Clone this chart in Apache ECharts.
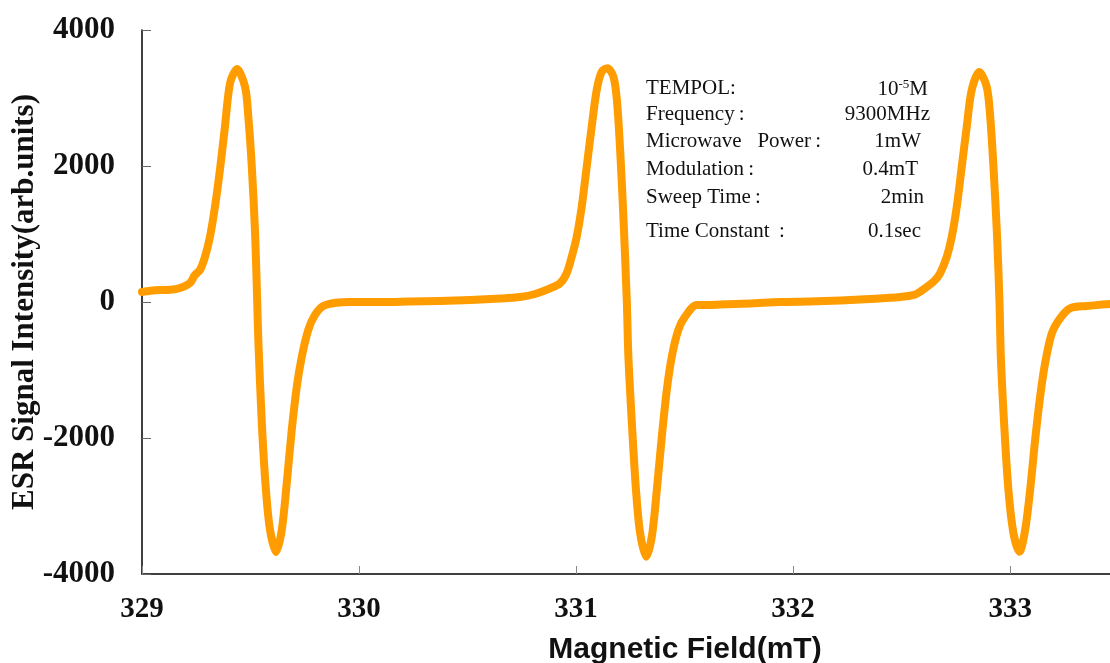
<!DOCTYPE html>
<html>
<head>
    <meta charset="utf-8">
    <title>ESR spectrum of TEMPOL</title>
    <style>
        html,body,#chart{
            height: 100%;
            width: 100%;
            padding: 0;
            margin: 0;
            background: #fff;
        }
    </style>
</head>
<body>
    <div id="chart"></div>
    <script src="https://cdn.jsdelivr.net/npm/echarts@6/dist/echarts.min.js"></script>
    <script>
        // magnetic field (mT)
        var field = [
            329.000, 329.040, 329.083, 329.130, 329.175, 329.221, 329.244, 329.267, 329.290, 329.313,
            329.336, 329.359, 329.382, 329.406, 329.438, 329.475, 329.490, 329.506, 329.521, 329.531,
            329.536, 329.552, 329.571, 329.590, 329.618, 329.644, 329.667, 329.690, 329.713, 329.736,
            329.766, 329.797, 329.835, 329.897, 329.959, 330.097, 330.235, 330.373, 330.512, 330.650,
            330.742, 330.811, 330.880, 330.926, 330.957, 330.980, 331.003, 331.026, 331.049, 331.072,
            331.095, 331.118, 331.144, 331.172, 331.188, 331.203, 331.218, 331.234, 331.241, 331.257,
            331.276, 331.295, 331.323, 331.349, 331.372, 331.395, 331.418, 331.441, 331.471, 331.502,
            331.556, 331.602, 331.664, 331.802, 331.940, 332.078, 332.217, 332.355, 332.493, 332.562,
            332.585, 332.647, 332.677, 332.708, 332.731, 332.754, 332.777, 332.800, 332.823, 332.858,
            332.892, 332.908, 332.923, 332.939, 332.951, 332.957, 332.972, 332.992, 333.015, 333.043,
            333.069, 333.092, 333.115, 333.138, 333.161, 333.192, 333.230, 333.276, 333.353, 333.461
        ];
        // signal intensity (arb. units)
        var intensity = [
            147, 165, 176, 180, 206, 279, 397, 470, 662, 956,
            1397, 1941, 2574, 3221, 3426, 3162, 2721, 1985, 1015, -15,
            -559, -1779, -2765, -3353, -3676, -3353, -2662, -1882, -1250, -809,
            -412, -191, -59, -10, 0, 0, 7, 15, 29, 51,
            74, 118, 201, 275, 426, 666, 960, 1401, 1990, 2578,
            3118, 3387, 3437, 3313, 2971, 2235, 1254, -15, -804, -1779,
            -2765, -3397, -3746, -3451, -2765, -1981, -1294, -804, -412, -216,
            -44, -44, -37, -22, 0, 7, 22, 44, 74, 110,
            151, 299, 422, 666, 960, 1401, 1990, 2578, 3118, 3382,
            3166, 2725, 1990, 1010, -15, -804, -1779, -2765, -3397, -3672,
            -3353, -2765, -2029, -1393, -901, -460, -240, -93, -59, -29
        ];
        var yTicks = [-4000, -2000, 0, 2000, 4000];

        // measurement conditions
        var condLabels = ['TEMPOL:', 'Frequency\u2009:', 'Microwave\u2002 Power\u2009:', 'Modulation\u2009:', 'Sweep Time\u2009:', 'Time Constant\u2009 :'];
        var condValues = ['{n|10}{s|-5}{n|M}', '9300MHz', '1mW', '0.4mT', '2min', '0.1sec'];
        var condRight = [928, 930, 921, 918, 924, 921];
        var condY = [90, 116, 143, 171, 199, 233];

        var points = field.map(function(b, i){ return [b, intensity[i]]; });

        var serif = '"Liberation Serif", "Times New Roman", serif';
        var sans = '"Liberation Sans", Arial, sans-serif';

        var graphics = [];
        condLabels.forEach(function(t, i){
            graphics.push({
                type: 'text', left: 646, top: condY[i] - 12,
                style: { text: t, font: '21px ' + serif, fill: '#111' }
            });
            graphics.push({
                type: 'text', right: 1110 - condRight[i], top: condY[i] - 12,
                style: {
                    text: condValues[i], font: '21px ' + serif, fill: '#111',
                    rich: {
                        n: { fontFamily: serif, fontSize: 21, color: '#111' },
                        s: { fontFamily: serif, fontSize: 13, color: '#111', verticalAlign: 'top', padding: [0, 0, 9, 0] }
                    }
                }
            });
        });

        var chart = echarts.init(document.getElementById('chart'));
        chart.setOption({
            animation: false,
            grid: { left: 142, right: 0, top: 30, bottom: 89, containLabel: false, outerBoundsMode: 'none' },
            xAxis: {
                type: 'value', min: 329, max: 333.46, interval: 1,
                name: 'Magnetic Field(mT)', nameLocation: 'middle', nameGap: 61,
                nameTextStyle: { fontFamily: sans, fontWeight: 'bold', fontSize: 30, color: '#111', padding: [0, 0, 0, 118] },
                axisLine: { onZero: false, lineStyle: { color: '#000', width: 1.5 } },
                axisTick: { inside: true, length: 8, lineStyle: { color: '#888' } },
                axisLabel: { margin: 21, showMaxLabel: false, fontFamily: serif, fontWeight: 'bold', fontSize: 29, color: '#111' },
                splitLine: { show: false }
            },
            yAxis: {
                type: 'value', min: yTicks[0], max: yTicks[yTicks.length - 1], interval: 2000,
                name: 'ESR Signal Intensity(arb.units)', nameLocation: 'middle', nameGap: 102,
                nameMoveOverlap: false,
                nameTextStyle: { fontFamily: serif, fontWeight: 'bold', fontSize: 31, color: '#111' },
                axisLine: { show: true, onZero: false, lineStyle: { color: '#000', width: 1.5 } },
                axisTick: { show: true, inside: true, length: 9, lineStyle: { color: '#666' } },
                axisLabel: {
                    margin: 27, fontFamily: serif, fontWeight: 'bold', fontSize: 31, color: '#111',
                    formatter: function(v){ return String(v); }
                },
                splitLine: { show: false }
            },
            graphic: graphics,
            series: [{
                type: 'line',
                data: points,
                showSymbol: false,
                smooth: 0.3,
                clip: true,
                lineStyle: { color: '#FF9C00', width: 8, cap: 'round', join: 'round' }
            }]
        });
    </script>
</body>
</html>
